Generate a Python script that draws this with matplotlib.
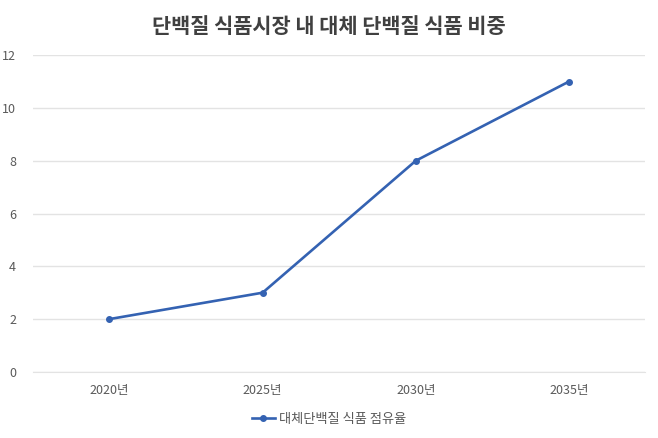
import matplotlib.pyplot as plt

plt.rcParams['font.family'] = ['Noto Sans CJK KR', 'DejaVu Sans']

years = ['2020년', '2025년', '2030년', '2035년']
share = [2, 3, 8, 11]
yticks = [0, 2, 4, 6, 8, 10, 12]

fig = plt.figure(figsize=(6.58, 4.38), dpi=100)
ax = fig.add_axes([0.050, 0.151, 0.931, 0.723])

x = list(range(len(years)))
ax.plot(x, share, color='#3462B2', linewidth=1.9, marker='o', markersize=4,
        label='대체단백질 식품 점유율')

ax.set_xlim(-0.5, len(years) - 0.5)
ax.set_ylim(0, 12)
ax.set_yticks(yticks)
ax.set_xticks(x)
ax.set_xticklabels(years)
ax.grid(axis='y', color='#E3E3E3', linewidth=1)
ax.set_axisbelow(True)
for s in ax.spines.values():
    s.set_visible(False)
ax.spines['bottom'].set_visible(True)
ax.spines['bottom'].set_color('#E3E3E3')
ax.tick_params(length=0, colors='#595959', labelsize=9)
ax.tick_params(axis='y', pad=12)
ax.tick_params(axis='x', pad=9)
for lbl in ax.get_yticklabels():
    lbl.set_horizontalalignment('right')

fig.text(0.5, 0.940, '단백질 식품시장 내 대체 단백질 식품 비중', ha='center', va='center',
         fontsize=15, fontweight='bold', color='#404040')

leg = fig.legend(loc='center', bbox_to_anchor=(0.5, 0.043), frameon=False,
                 fontsize=9.5, handlelength=1.8, handletextpad=0.3)
for t in leg.get_texts():
    t.set_color('#595959')

fig.savefig('out.png', dpi=100)
